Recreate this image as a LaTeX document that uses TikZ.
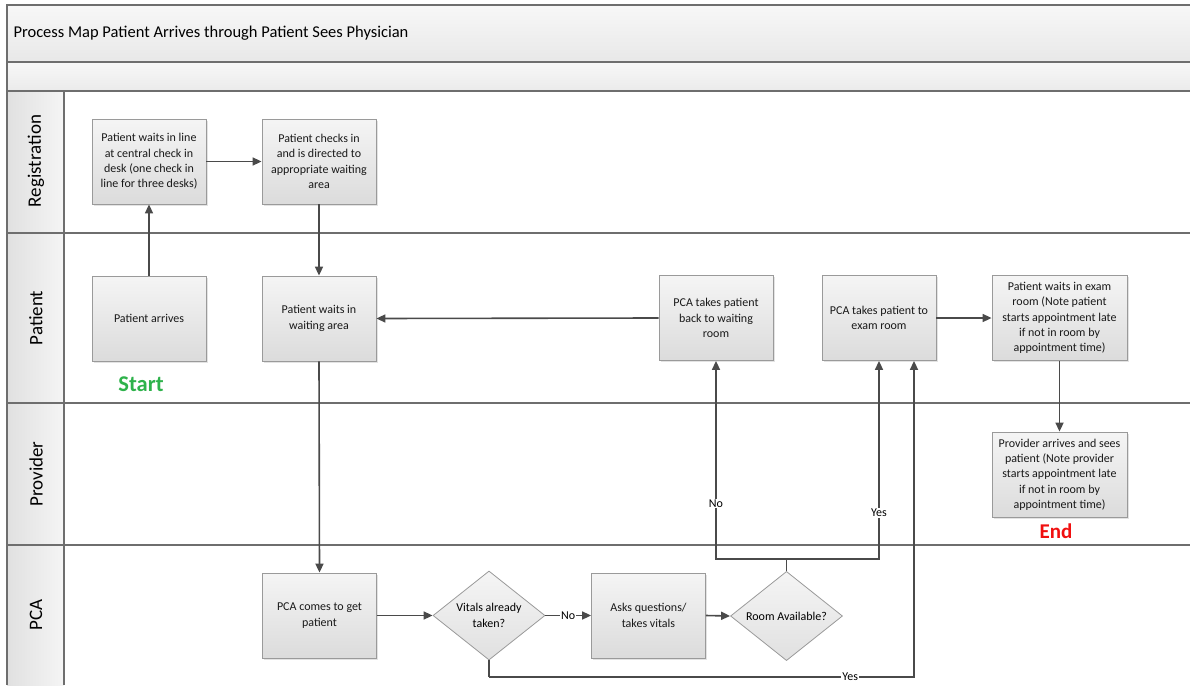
\documentclass[tikz,border=0pt]{standalone}
\usepackage{fontspec}
\setmainfont{Carlito}
\usetikzlibrary{arrows.meta,shapes.geometric,shadows}
\definecolor{linec}{HTML}{4A4A4A}
\definecolor{framec}{HTML}{6E6E6E}
\definecolor{boxc}{HTML}{9A9A9A}
\definecolor{startgreen}{HTML}{2EB24B}
\definecolor{endred}{HTML}{F01010}
\tikzset{
  procbox/.style={draw=boxc, line width=0.8pt, top color=white!96!black, bottom color=white!86!black,
    minimum width=114pt, minimum height=85pt, align=center, inner sep=2pt,
    font=\fontsize{12}{15.3}\selectfont, text=black!90,
    drop shadow={opacity=0.22, shadow xshift=1.5pt, shadow yshift=-1.5pt}},
  decision/.style={diamond, draw=boxc, line width=0.8pt, top color=white!96!black, bottom color=white!88!black,
    minimum width=112pt, minimum height=85pt, inner sep=0pt, align=center,
    font=\fontsize{12}{15.3}\selectfont},
  conn/.style={draw=linec, line width=1.6pt, -{Triangle[length=9pt,width=8pt]}},
  plainconn/.style={draw=linec, line width=1.6pt},
  lbl/.style={fill=white, inner sep=1pt, font=\fontsize{12}{13}\selectfont},
  lanelbl/.style={rotate=90, font=\fontsize{19}{21}\selectfont},
  frame/.style={draw=framec, line width=1.4pt},
}
\begin{document}
\begin{tikzpicture}[x=1pt,y=-1pt]
\useasboundingbox (0,0) rectangle (1190,685);
% title bands
\fill[top color=white!97!black, bottom color=white!91!black] (7,5) rectangle (1190,62);
\fill[top color=white!97!black, bottom color=white!92!black] (7,62) rectangle (1190,91);
\node[anchor=west, font=\fontsize{16.5}{18}\selectfont] (title) at (10,33) {Process Map Patient Arrives through Patient Sees Physician};
% lane header column
\fill[left color=white!88!black, right color=white!96!black] (7,91) rectangle (64,685);
\draw[frame] (1190,5) -- (7,5) -- (7,685);
\draw[frame] (7,62) -- (1190,62);
\draw[frame] (7,91) -- (1190,91);
\draw[frame] (7,233) -- (1190,233);
\draw[frame] (7,403) -- (1190,403);
\draw[frame] (7,545) -- (1190,545);
\draw[frame] (64,91) -- (64,685);
\node[lanelbl] (lreg) at (36,161) {Registration};
\node[lanelbl] (lpat) at (36,318) {Patient};
\node[lanelbl] (lpro) at (36,474) {Provider};
\node[lanelbl] (lpca) at (36,615) {PCA};
% nodes
\node[procbox] (wline) at (149,161.5) {Patient waits in line\\at central check in\\desk (one check in\\line for three desks)};
\node[procbox] (checkin) at (319,161.5) {Patient checks in\\and is directed to\\appropriate waiting\\area};
\node[procbox] (arrives) at (149,318.5) {Patient arrives};
\node[procbox] (waitarea) at (319,318.5) {Patient waits in\\waiting area};
\node[procbox] (back) at (716,318) {PCA takes patient\\back to waiting\\room};
\node[procbox] (toexam) at (879,318) {PCA takes patient to\\exam room};
\node[procbox, minimum width=135pt] (examwait) at (1059.5,318) {Patient waits in exam\\room (Note patient\\starts appointment late\\if not in room by\\appointment time)};
\node[procbox, minimum width=135pt] (provider) at (1059.5,474.5) {Provider arrives and sees\\patient (Note provider\\starts appointment late\\if not in room by\\appointment time)};
\node[procbox] (pcacome) at (319.5,615.5) {PCA comes to get\\patient};
\node[decision] (vitals) at (489,615.5) {Vitals already\\taken?};
\node[procbox] (asks) at (648.5,615.5) {Asks questions/\\takes vitals};
\node[decision] (room) at (786.5,616) {Room Available?};
\node[font=\fontsize{22.5}{24}\bfseries, text=startgreen] (start) at (141,384) {Start};
\node[font=\fontsize{21}{23}\bfseries, text=endred] (end) at (1056,531) {End};
% connectors
\draw[conn] (arrives.north) -- (wline.south);
\draw[conn] (wline.east) -- (checkin.west);
\draw[conn] (checkin.south) -- (waitarea.north);
\draw[conn] (back.west) -- (waitarea.east);
\draw[conn] (waitarea.south) -- (pcacome.north);
\draw[conn] (pcacome.east) -- (vitals.west);
\draw[conn] (vitals.east) -- node[lbl] (lno1) {No} (asks.west);
\draw[conn] (asks.east) -- (room.west);
\coordinate (rj) at (786.5,559);
\draw[plainconn] (room.north) -- (rj);
\draw[conn] (rj) -| node[lbl, pos=0.64] (lno2) {No} (back.south);
\draw[conn] (rj) -| node[lbl, pos=0.616] (lyes1) {Yes} (toexam.south);
\coordinate (vb) at (489,677);
\draw[plainconn] (vitals.south) -- (vb);
\draw[conn] (vb) -| node[lbl, pos=0.425] (lyes2) {Yes} ([xshift=35pt]toexam.south);
\draw[conn] (toexam.east) -- (examwait.west);
\draw[conn] (examwait.south) -- (provider.north);
\end{tikzpicture}
\end{document}
